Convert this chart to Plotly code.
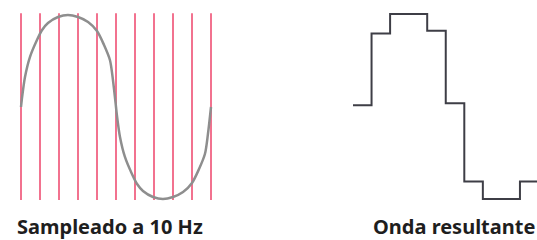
import plotly.graph_objects as go

# Sampling instants (s) for a 1 Hz wave sampled at 10 Hz
sample_t = [0.0, 0.1, 0.2, 0.3, 0.4, 0.5, 0.6, 0.7, 0.8, 0.9, 1.0]

# Hand-drawn analog wave (time, amplitude)
curve_t = [0.0, 0.004, 0.021, 0.047, 0.084, 0.111, 0.142, 0.195, 0.247, 0.300,
           0.353, 0.400, 0.437, 0.468, 0.484, 0.500,
           0.504, 0.521, 0.547, 0.584, 0.611, 0.642, 0.695, 0.747, 0.800,
           0.853, 0.900, 0.937, 0.968, 0.984, 1.000]
curve_v = [0.0, 0.076, 0.326, 0.543, 0.728, 0.837, 0.913, 0.978, 1.0, 0.978,
           0.924, 0.826, 0.674, 0.511, 0.293, 0.0,
           -0.076, -0.326, -0.543, -0.728, -0.837, -0.913, -0.978, -1.0, -0.978,
           -0.924, -0.826, -0.674, -0.511, -0.293, 0.0]

# Held sample values of the resulting wave
held_v = [0.02, 0.80, 1.01, 1.01, 0.83, 0.04, -0.81, -1.0, -1.0, -0.81, 0.02]

labels = ["Sampleado a 10 Hz", "Onda resultante"]

RED = "#f2728f"
line_top, line_bot = 1.02, -1.01

vx, vy = [], []
for t in sample_t:
    vx += [t, t, None]
    vy += [line_bot, line_top, None]

fig = go.Figure()
fig.add_trace(go.Scatter(x=vx, y=vy, mode="lines", xaxis="x", yaxis="y",
                         line=dict(color=RED, width=2), hoverinfo="skip"))
fig.add_trace(go.Scatter(x=curve_t, y=curve_v, mode="lines", xaxis="x", yaxis="y",
                         line=dict(color="#8e8e8e", width=2.5, shape="spline", smoothing=0.8),
                         hoverinfo="skip"))
fig.add_trace(go.Scatter(x=sample_t, y=held_v, mode="lines", xaxis="x2", yaxis="y",
                         line=dict(color="#3e3e46", width=2, shape="hv"),
                         hoverinfo="skip"))

W, H = 537, 240
fig.update_layout(
    width=W, height=H, margin=dict(l=0, r=0, t=0, b=0),
    paper_bgcolor="white", plot_bgcolor="white", showlegend=False,
    xaxis=dict(domain=[0, 0.5], range=[-21 / 190, (268.5 - 21) / 190], visible=False),
    xaxis2=dict(domain=[0.5, 1], range=[(268.5 - 353) / 185.5, (537 - 353) / 185.5],
                visible=False, anchor="y"),
    yaxis=dict(domain=[0, 1], range=[(107 - 240) / 92, 107 / 92], visible=False),
)

for txt, cx in zip(labels, [110, 453.5]):
    fig.add_annotation(text="<b>" + txt + "</b>", xref="paper", yref="paper",
                       x=cx / W, y=1 - 226 / H, xanchor="center", yanchor="middle",
                       showarrow=False,
                       font=dict(family="Noto Sans", size=20, color="#1e1e1e"))

fig.write_html("out.html", config={"displayModeBar": False},
               post_script="document.body.style.margin='0';document.body.style.overflow='hidden';")
